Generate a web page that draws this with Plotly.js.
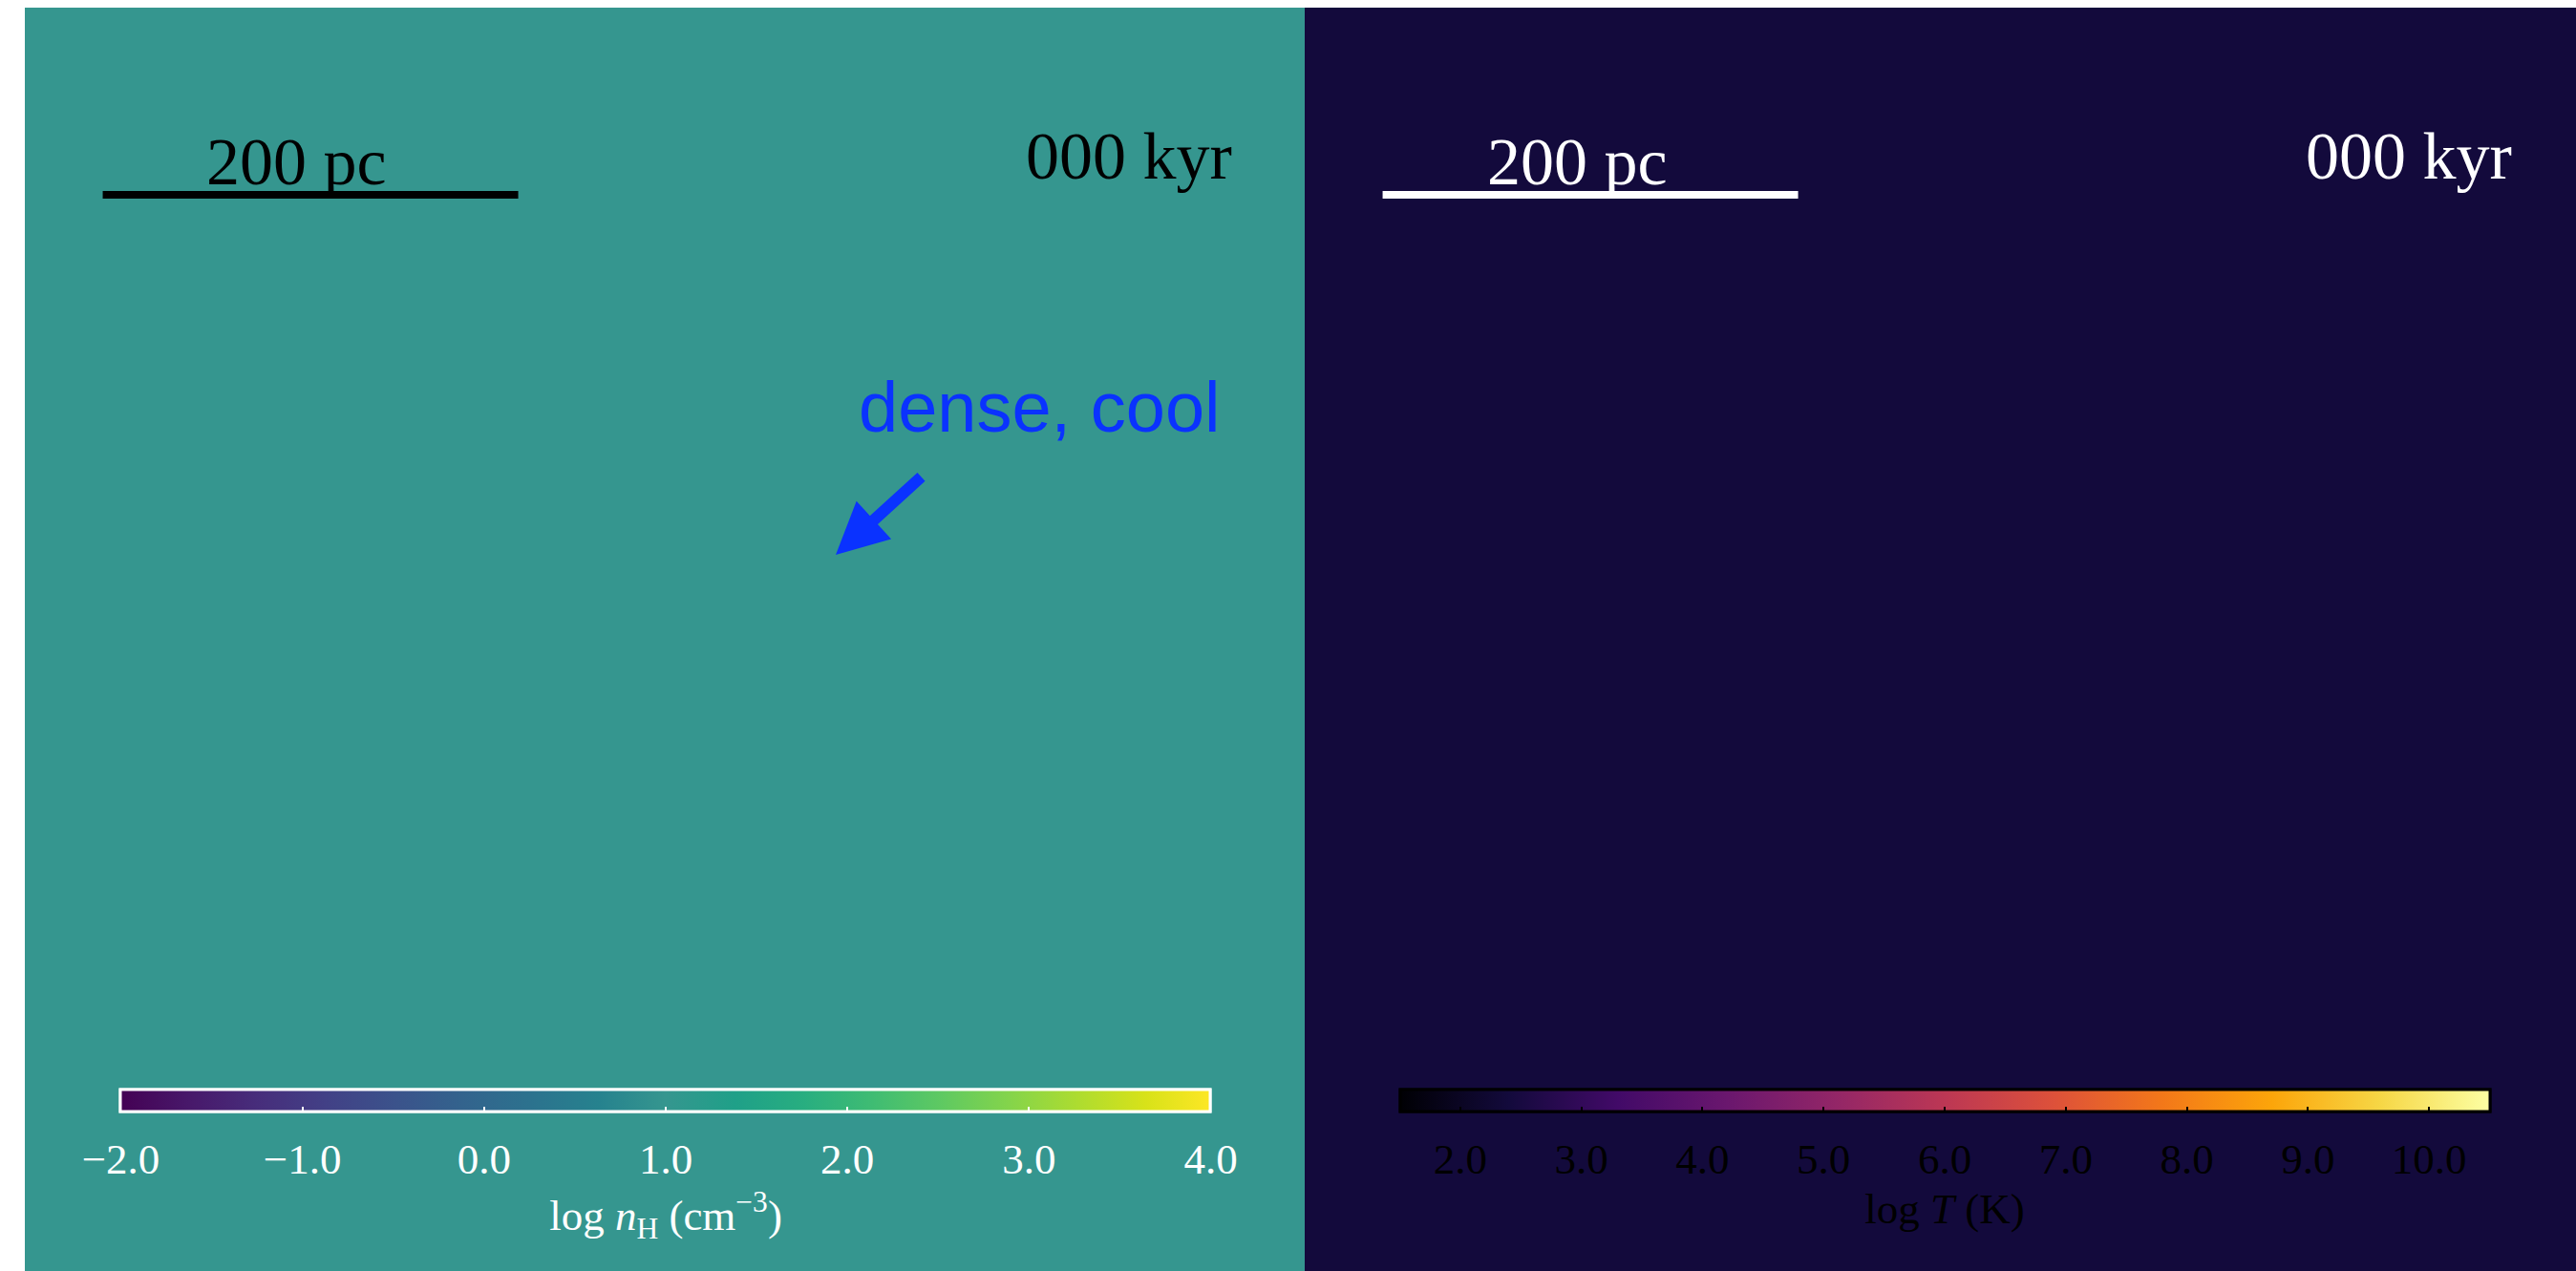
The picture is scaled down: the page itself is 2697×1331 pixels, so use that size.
<!DOCTYPE html>
<html>
<head>
<meta charset="utf-8">
<script src="https://cdn.plot.ly/plotly-3.0.1.min.js"></script>
<style>
  html, body { margin: 0; padding: 0; overflow: hidden; background: #ffffff; }
  #chart { width: 2697px; height: 1331px; }
</style>
</head>
<body>
<div id="chart"></div>
<script>
// ---------------- data ----------------
// uniform initial state (t = 000 kyr)
const densityGrid = [[1.0, 1.0], [1.0, 1.0]];          // log n_H (cm^-3)
const temperatureGrid = [[2.4, 2.4], [2.4, 2.4]];      // log T (K)
const densityTicks = [-2, -1, 0, 1, 2, 3, 4];
const temperatureTicks = [2, 3, 4, 5, 6, 7, 8, 9, 10];
const densityRange = [-2, 4];
const temperatureRange = [1.5, 10.5];
const scaleBarPc = 200;
const timeLabel = "000 kyr";
const scaleLabel = "200 pc";
const annotationText = "dense, cool";

// colour scales (viridis / inferno as they appear in the frame)
const viridisScale = [
  [0.0, '#440154'], [0.0627, '#48186a'], [0.1255, '#472d7b'], [0.1882, '#424086'],
  [0.2510, '#3b528b'], [0.3137, '#33638d'], [0.3765, '#2c728e'], [0.4392, '#26828e'],
  [0.5, '#35968f'], [0.5647, '#1fa088'], [0.6275, '#28ae80'], [0.6902, '#3fbc73'],
  [0.7529, '#5ec962'], [0.8157, '#84d44b'], [0.8784, '#addc30'], [0.9412, '#d8e219'],
  [1.0, '#fde725']
];
const infernoScale = [
  [0.0, '#000004'], [0.1, '#130a3c'], [0.2, '#420a68'], [0.3, '#6a176e'],
  [0.4, '#932667'], [0.5, '#bc3754'], [0.6, '#dd513a'], [0.7, '#f37819'],
  [0.8, '#fca50a'], [0.9, '#f6d746'], [1.0, '#fcffa4']
];

// ---------------- layout geometry ----------------
const W = 2697, H = 1331;
const pxPerPc = 435 / scaleBarPc;
const leftPanel = { x0: 26, x1: 1366 };
const rightPanel = { x0: 1366, x1: 2697 };
const panelTop = 8;
const panelH = H - panelTop;
const leftWpc = (leftPanel.x1 - leftPanel.x0) / pxPerPc;
const rightWpc = (rightPanel.x1 - rightPanel.x0) / pxPerPc;
const panelHpc = panelH / pxPerPc;
const px = v => v / W;
const py = v => 1 - v / H;

const serif = "Liberation Serif, Times New Roman, serif";
const sans = "Liberation Sans, Arial, Helvetica, sans-serif";

const barStartPc = 37.5;
const barYpc = panelHpc - (204 - panelTop) / pxPerPc;

function cbar(xc, ticks, color, titleText, outline) {
  return {
    orientation: 'h',
    x: px(xc), xanchor: 'center', xref: 'paper',
    y: py(1141), yanchor: 'top', yref: 'paper',
    len: 1141, lenmode: 'pixels',
    thickness: 23, thicknessmode: 'pixels',
    xpad: 0, ypad: 0,
    outlinecolor: outline, outlinewidth: 3,
    borderwidth: 0, bgcolor: 'rgba(0,0,0,0)',
    tickmode: 'array', tickvals: ticks, tickformat: '.1f',
    ticks: 'outside', ticklen: 10, tickcolor: 'rgba(0,0,0,0)',
    tickfont: { family: serif, size: 45, color: color },
    title: { text: titleText, side: 'bottom', font: { family: serif, size: 45, color: color } }
  };
}

function tickOnlyBar(xc, ticks, color) {
  const cb = cbar(xc, ticks, color, '', color);
  cb.ticks = 'inside';
  cb.ticklen = 6;
  cb.tickwidth = 2;
  cb.tickcolor = color;
  cb.showticklabels = false;
  cb.title = { text: '' };
  return cb;
}

const data = [
  {
    type: 'heatmap', xaxis: 'x', yaxis: 'y',
    x: [0, leftWpc], y: [0, panelHpc], z: densityGrid,
    colorscale: viridisScale, zmin: densityRange[0], zmax: densityRange[1],
    hoverinfo: 'skip',
    colorbar: cbar(697, densityTicks, '#ffffff',
      'log <i>n</i><sub>H</sub> (cm<sup>−3</sup>)', '#ffffff')
  },
  {
    type: 'heatmap', xaxis: 'x2', yaxis: 'y2',
    x: [0, rightWpc], y: [0, panelHpc], z: temperatureGrid,
    colorscale: infernoScale, zmin: temperatureRange[0], zmax: temperatureRange[1],
    hoverinfo: 'skip',
    colorbar: cbar(2036, temperatureTicks, '#000000', 'log <i>T</i> (K)', '#000000')
  },
  // inner tick marks (tick-only colour bars on top of the same bars)
  {
    type: 'heatmap', xaxis: 'x', yaxis: 'y',
    x: [0, leftWpc], y: [0, panelHpc], z: densityGrid,
    colorscale: viridisScale, zmin: densityRange[0], zmax: densityRange[1],
    hoverinfo: 'skip',
    colorbar: tickOnlyBar(697, densityTicks, '#ffffff')
  },
  {
    type: 'heatmap', xaxis: 'x2', yaxis: 'y2',
    x: [0, rightWpc], y: [0, panelHpc], z: temperatureGrid,
    colorscale: infernoScale, zmin: temperatureRange[0], zmax: temperatureRange[1],
    hoverinfo: 'skip',
    colorbar: tickOnlyBar(2036, temperatureTicks, '#000000')
  },
  {
    type: 'scatter', mode: 'lines', xaxis: 'x', yaxis: 'y',
    x: [barStartPc, barStartPc + scaleBarPc], y: [barYpc, barYpc],
    line: { color: '#000000', width: 8 }, hoverinfo: 'skip', showlegend: false
  },
  {
    type: 'scatter', mode: 'lines', xaxis: 'x2', yaxis: 'y2',
    x: [barStartPc, barStartPc + scaleBarPc], y: [barYpc, barYpc],
    line: { color: '#ffffff', width: 8 }, hoverinfo: 'skip', showlegend: false
  }
];

const axisCommon = { visible: false, fixedrange: true, showgrid: false, zeroline: false };

const layout = {
  width: W, height: H,
  margin: { l: 0, r: 0, t: 0, b: 0, pad: 0 },
  paper_bgcolor: '#ffffff', plot_bgcolor: '#ffffff',
  showlegend: false,
  xaxis: Object.assign({}, axisCommon, { domain: [px(leftPanel.x0), px(leftPanel.x1)], range: [0, leftWpc], anchor: 'y' }),
  yaxis: Object.assign({}, axisCommon, { domain: [0, 1 - panelTop / H], range: [0, panelHpc], anchor: 'x' }),
  xaxis2: Object.assign({}, axisCommon, { domain: [px(rightPanel.x0), px(rightPanel.x1)], range: [0, rightWpc], anchor: 'y2' }),
  yaxis2: Object.assign({}, axisCommon, { domain: [0, 1 - panelTop / H], range: [0, panelHpc], anchor: 'x2' }),
  annotations: [
    { xref: 'paper', yref: 'paper', x: px(310), y: py(170), xanchor: 'center', yanchor: 'middle',
      text: scaleLabel, showarrow: false, font: { family: serif, size: 70, color: '#000000' } },
    { xref: 'paper', yref: 'paper', x: px(1292), y: py(163), xanchor: 'right', yanchor: 'middle',
      text: timeLabel, showarrow: false, font: { family: serif, size: 70, color: '#000000' } },
    { xref: 'paper', yref: 'paper', x: px(1651), y: py(170), xanchor: 'center', yanchor: 'middle',
      text: scaleLabel, showarrow: false, font: { family: serif, size: 70, color: '#ffffff' } },
    { xref: 'paper', yref: 'paper', x: px(2632), y: py(163), xanchor: 'right', yanchor: 'middle',
      text: timeLabel, showarrow: false, font: { family: serif, size: 70, color: '#ffffff' } },
    { xref: 'paper', yref: 'paper', x: px(897), y: py(426), xanchor: 'left', yanchor: 'middle',
      text: annotationText, showarrow: false, font: { family: sans, size: 74, color: '#0a32ff' } },
    { xref: 'paper', yref: 'paper', x: px(875), y: py(581), axref: 'pixel', ayref: 'pixel',
      ax: 91, ay: -83, text: '', showarrow: true, arrowhead: 2, arrowsize: 0.9,
      arrowwidth: 12, arrowcolor: '#0a32ff', standoff: 0, startstandoff: 0 }
  ]
};

Plotly.newPlot('chart', data, layout, { staticPlot: true, displayModeBar: false });
</script>
</body>
</html>
